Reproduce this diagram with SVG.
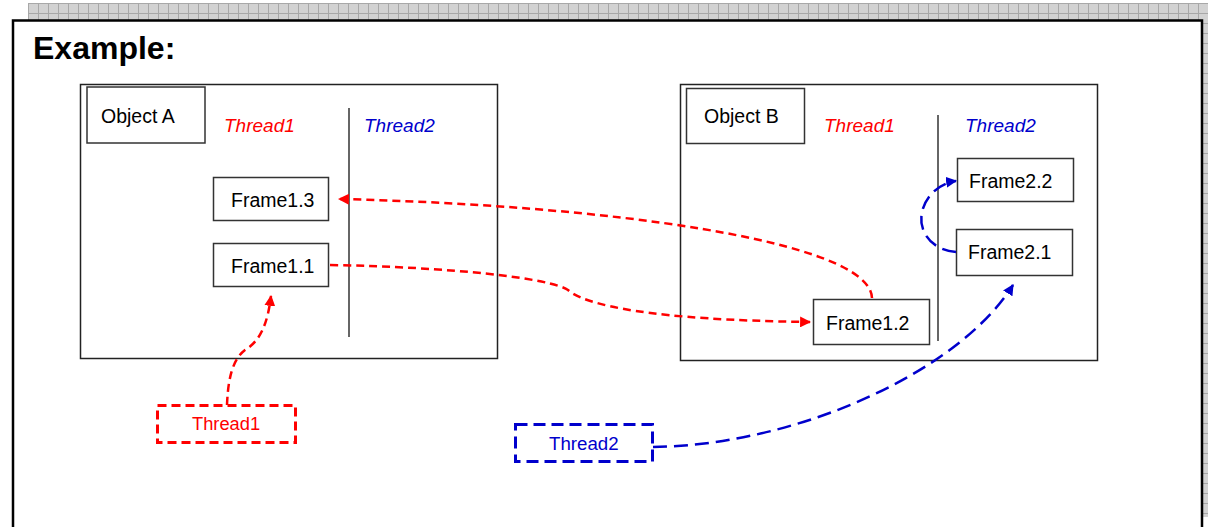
<svg xmlns="http://www.w3.org/2000/svg" width="1208" height="527" viewBox="0 0 1208 527">
<style>
.box{fill:#fff;stroke:#333;stroke-width:1.5}
.txt{font-family:"Liberation Sans",Arial,sans-serif;font-size:19.5px;fill:#000}
.it{font-family:"Liberation Sans",Arial,sans-serif;font-size:19px;font-style:italic}
.red{fill:#ff0000}
.blue{fill:#0000cc}
.vline{stroke:#333;stroke-width:1.5}
.cr{fill:none;stroke:#ff0000;stroke-width:2.5;stroke-dasharray:8 5}
.cb{fill:none;stroke:#0000cc;stroke-width:2.5;stroke-dasharray:14 7}
</style>
<defs>
<pattern id="grid" width="10" height="10" patternUnits="userSpaceOnUse" x="28" y="3">
<rect width="10" height="10" fill="#d2d2d2"/>
<path d="M0,0.5H10M0.5,0V10" stroke="#a8a8a8" stroke-width="1"/>
</pattern>
<marker id="ar" viewBox="0 0 10 10" refX="9" refY="5" markerWidth="11" markerHeight="11" markerUnits="userSpaceOnUse" orient="auto">
<path d="M0,0L10,5L0,10Z" fill="#ff0000"/>
</marker>
<marker id="ab" viewBox="0 0 10 10" refX="9" refY="5" markerWidth="11" markerHeight="11" markerUnits="userSpaceOnUse" orient="auto">
<path d="M0,0L10,5L0,10Z" fill="#0000cc"/>
</marker>
</defs>
<rect width="1208" height="527" fill="#fff"/>
<rect x="28" y="3" width="1180" height="17" fill="url(#grid)"/>
<rect x="1203" y="3" width="5" height="514" fill="url(#grid)"/>
<path d="M13,527V20.5H1202V527" fill="none" stroke="#000" stroke-width="2.5"/>
<text x="33" y="59" font-family="'Liberation Sans',Arial,sans-serif" font-size="32" font-weight="bold" fill="#000">Example:</text>

<g id="objectA">
<rect x="80.5" y="84.5" width="417" height="274" fill="#fff" stroke="#222" stroke-width="1.5"/>
<line class="vline" x1="349" y1="108" x2="349" y2="337"/>
<text class="it red" x="224" y="132">Thread1</text>
<text class="it blue" x="364" y="132">Thread2</text>
</g>
<g id="objectA-label">
<rect class="box" x="87" y="87" width="118" height="56"/>
<text class="txt" x="101" y="123">Object A</text>
</g>
<g id="frame13">
<rect class="box" x="213.5" y="177.5" width="115" height="43"/>
<text class="txt" x="231" y="207">Frame1.3</text>
</g>
<g id="frame11">
<rect class="box" x="213.5" y="243.5" width="115" height="43"/>
<text class="txt" x="231" y="273">Frame1.1</text>
</g>

<g id="objectB">
<rect x="680.5" y="84.5" width="417" height="276" fill="#fff" stroke="#222" stroke-width="1.5"/>
<line class="vline" x1="938" y1="115" x2="938" y2="341"/>
<text class="it red" x="824" y="132">Thread1</text>
<text class="it blue" x="965" y="132">Thread2</text>
</g>
<g id="objectB-label">
<rect class="box" x="686.5" y="88.5" width="118" height="55"/>
<text class="txt" x="704" y="123">Object B</text>
</g>
<g id="frame22">
<rect class="box" x="957.5" y="158.5" width="116" height="43"/>
<text class="txt" x="969" y="188">Frame2.2</text>
</g>
<g id="frame21">
<rect class="box" x="956.5" y="229.5" width="116" height="46"/>
<text class="txt" x="968" y="259">Frame2.1</text>
</g>
<g id="frame12">
<rect class="box" x="813.5" y="299.5" width="116" height="45"/>
<text class="txt" x="826" y="330">Frame1.2</text>
</g>

<g id="thread1">
<rect x="157.5" y="405.5" width="138" height="37" fill="none" stroke="#ff0000" stroke-width="3" stroke-dasharray="9 5"/>
<text x="192" y="430" font-family="'Liberation Sans',Arial,sans-serif" font-size="18.3" fill="#ff0000">Thread1</text>
</g>
<g id="thread2">
<rect x="515.5" y="424.5" width="137" height="37" fill="none" stroke="#0000cc" stroke-width="3" stroke-dasharray="12 6"/>
<text x="549" y="450" font-family="'Liberation Sans',Arial,sans-serif" font-size="18.7" fill="#0000cc">Thread2</text>
</g>

<g id="connectors">
<path class="cr" d="M227,405C228,380 232,360 245,350C262,340 268,320 271,296" marker-end="url(#ar)"/>
<path class="cr" d="M872,298C870,240 600,205 339,199" marker-end="url(#ar)"/>
<path class="cr" d="M330,265C450,267 550,278 568,290C585,305 650,320 810,322" marker-end="url(#ar)"/>
<path class="cb" d="M653,447C800,445 960,370 1013,285" marker-end="url(#ab)"/>
<path class="cb" d="M956,252C930,250 918,230 922,212C926,195 940,183 956,181" marker-end="url(#ab)"/>
</g>
</svg>
